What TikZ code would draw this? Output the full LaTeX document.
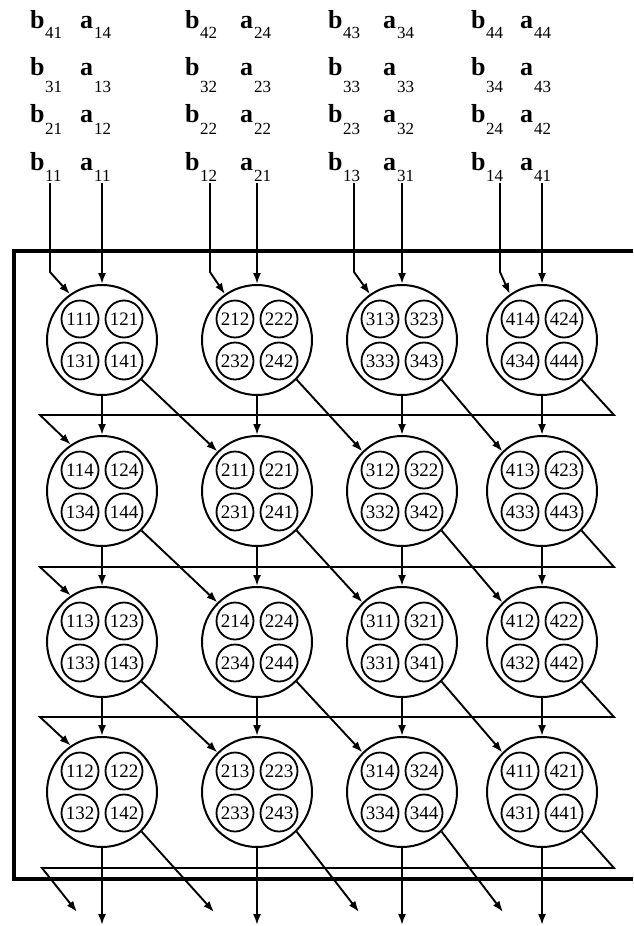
\documentclass[tikz,border=0pt]{standalone}
\usepackage{fontspec}
\setmainfont{Liberation Serif}
\usetikzlibrary{arrows.meta,calc}
\begin{document}
\begin{tikzpicture}[x=1pt,y=-1pt,
  ln/.style={line width=1.9pt},
  arr/.style={ln,-{Latex[length=11pt,width=8pt]}},
  bigc/.style={circle,draw,line width=2pt,minimum size=110pt,inner sep=0pt},
  smallc/.style={circle,draw,line width=1.8pt,minimum size=37pt,inner sep=0pt,font=\fontsize{19}{19}\selectfont},
  lett/.style={anchor=base west,inner sep=0pt,font=\fontsize{26}{26}\selectfont\bfseries},
  subs/.style={anchor=base west,inner sep=0pt,font=\fontsize{17}{17}\selectfont}]
\useasboundingbox (0,0) rectangle (633,926);

% top labels
\foreach \t/\ly/\sy in {1/28/38, 2/75/92, 3/122/134, 4/170/181} {
  \foreach \g/\bx/\ax in {1/30/80, 2/185/240, 3/328/383, 4/471/520} {
    \pgfmathtruncatemacro\m{5-\t}
    \node[lett] (Lb\t\g) at (\bx,\ly) {b};
    \node[subs] (Sb\t\g) at (\bx+15,\sy) {\m\g};
    \node[lett] (La\t\g) at (\ax,\ly) {a};
    \node[subs] (Sa\t\g) at (\ax+14,\sy) {\g\m};
  }
}

% frame
\draw[line width=4.5pt] (633,251) -- (14,251) -- (14,879) -- (633,879);

% processing elements
\foreach \c/\x in {1/102,2/257,3/402,4/542} {
  \foreach \r/\y in {1/340,2/491,3/642,4/792} {
    \pgfmathtruncatemacro\k{mod(\c-\r+4,4)+1}
    \node[bigc] (C\r\c) at (\x,\y) {};
    \node[smallc] (n\c1\k) at (\x-22,\y-21) {\c1\k};
    \node[smallc] (n\c2\k) at (\x+22,\y-21) {\c2\k};
    \node[smallc] (n\c3\k) at (\x-22,\y+21) {\c3\k};
    \node[smallc] (n\c4\k) at (\x+22,\y+21) {\c4\k};
  }
}

% inputs
\foreach \c/\x/\bx in {1/102/50,2/257/210,3/402/354,4/542/500} {
  \coordinate (at\c) at (\x,183);
  \draw[arr] (at\c) -- (C1\c.north);
  \coordinate (bt\c) at (\bx,183);
  \coordinate (bk\c) at (\bx,272);
  \draw[arr] (bt\c) -- (bk\c) -- (C1\c.125);
}

% between rows
\foreach \r/\rn/\yw in {1/2/415,2/3/567,3/4/717} {
  \foreach \c in {1,2,3,4} {
    \draw[arr] (C\r\c.south) -- (C\rn\c.north);
  }
  \foreach \c/\cn in {1/2,2/3,3/4} {
    \draw[arr] (C\r\c.-45) -- (C\rn\cn.135);
  }
  \coordinate (wr\r) at (614,\yw);
  \coordinate (wl\r) at (40,\yw);
  \draw[arr] (C\r4.-45) -- (wr\r) -- (wl\r) -- (C\rn1.124);
}

% outputs
\foreach \c/\x in {1/102,2/257,3/402,4/542} {
  \coordinate (out\c) at (\x,925);
  \draw[arr] (C4\c.south) -- (out\c);
}
\foreach \c/\dx in {1/214,2/359,3/503} {
  \coordinate (do\c) at (\dx,912);
  \draw[arr] (C4\c.-45) -- (do\c);
}
\coordinate (wr4) at (614,868);
\coordinate (wl4) at (42,868);
\coordinate (do0) at (77,912);
\draw[arr] (C44.-45) -- (wr4) -- (wl4) -- (do0);
\end{tikzpicture}
\end{document}
